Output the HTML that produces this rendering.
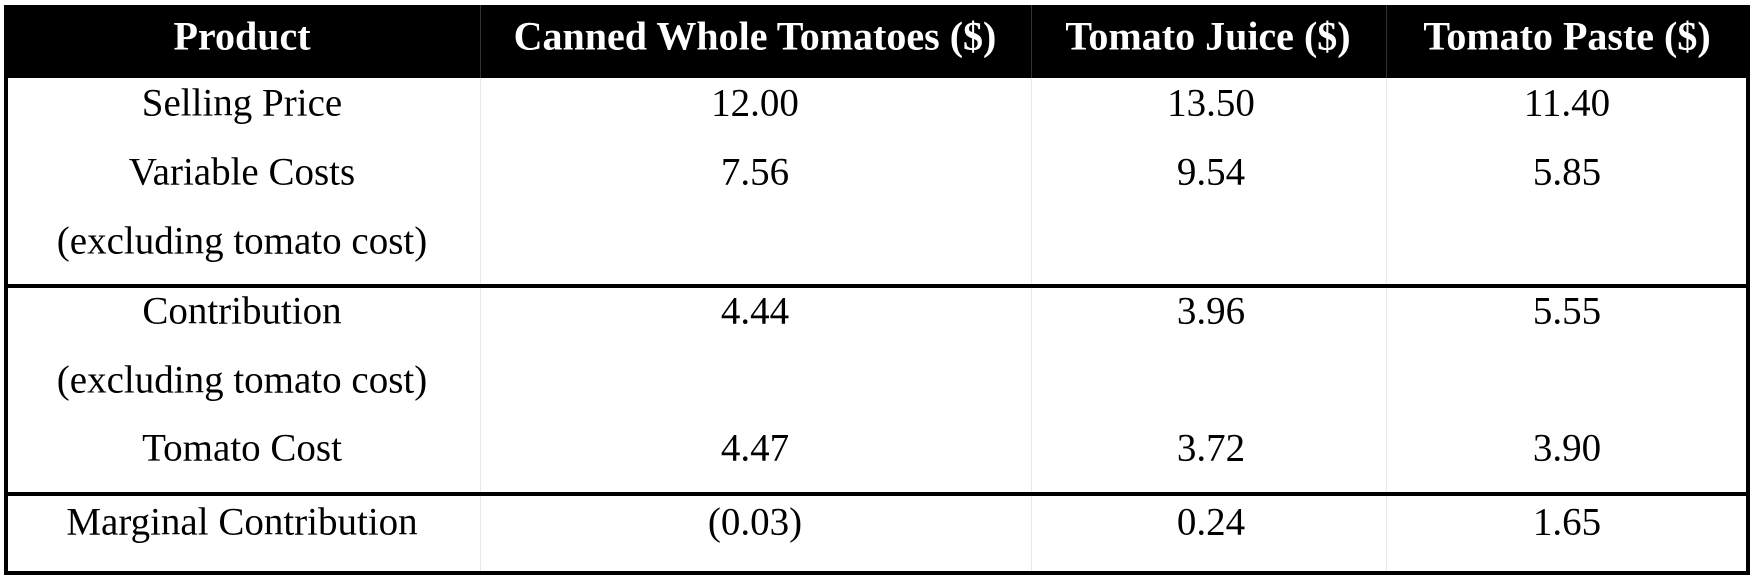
<!DOCTYPE html>
<html><head><meta charset="utf-8"><style>
body{margin:0;width:1758px;height:580px;background:#fff;position:relative;overflow:hidden;font-family:"Liberation Serif",serif;}
.t{position:absolute;transform:translate(-50%,-50%);white-space:nowrap;font-size:39px;color:#000;}
.h{color:#fff;font-weight:bold;font-size:40px;}
.ln{position:absolute;background:#000;}
.vl{position:absolute;background:#e8e8e8;width:1px;}
</style></head><body>
<div style="position:absolute;left:5px;top:5px;width:1744px;height:73px;background:#000"></div>
<div class="vl" style="left:480px;top:5px;height:73px;background:#333"></div>
<div class="vl" style="left:1031px;top:5px;height:73px;background:#333"></div>
<div class="vl" style="left:1386px;top:5px;height:73px;background:#333"></div>
<div class="vl" style="left:480px;top:78px;height:494px"></div>
<div class="vl" style="left:1031px;top:78px;height:494px"></div>
<div class="vl" style="left:1386px;top:78px;height:494px"></div>
<div class="ln" style="left:4px;top:5px;width:4px;height:570px"></div>
<div class="ln" style="left:1746px;top:5px;width:4px;height:570px"></div>
<div class="ln" style="left:4px;top:571px;width:1746px;height:4px"></div>
<div class="ln" style="left:4px;top:284px;width:1746px;height:4px"></div>
<div class="ln" style="left:4px;top:492px;width:1746px;height:4px"></div>

<div class="t h" style="left:242px;top:36px">Product</div>
<div class="t h" style="left:755px;top:36px">Canned Whole Tomatoes ($)</div>
<div class="t h" style="left:1208px;top:36px">Tomato Juice ($)</div>
<div class="t h" style="left:1567px;top:36px">Tomato Paste ($)</div>

<div class="t" style="left:242px;top:103px">Selling Price</div>
<div class="t" style="left:755px;top:103px">12.00</div>
<div class="t" style="left:1211px;top:103px">13.50</div>
<div class="t" style="left:1567px;top:103px">11.40</div>

<div class="t" style="left:242px;top:172px">Variable Costs</div>
<div class="t" style="left:755px;top:172px">7.56</div>
<div class="t" style="left:1211px;top:172px">9.54</div>
<div class="t" style="left:1567px;top:172px">5.85</div>
<div class="t" style="left:242px;top:241px">(excluding tomato cost)</div>

<div class="t" style="left:242px;top:311px">Contribution</div>
<div class="t" style="left:755px;top:311px">4.44</div>
<div class="t" style="left:1211px;top:311px">3.96</div>
<div class="t" style="left:1567px;top:311px">5.55</div>
<div class="t" style="left:242px;top:380px">(excluding tomato cost)</div>

<div class="t" style="left:242px;top:448px">Tomato Cost</div>
<div class="t" style="left:755px;top:448px">4.47</div>
<div class="t" style="left:1211px;top:448px">3.72</div>
<div class="t" style="left:1567px;top:448px">3.90</div>

<div class="t" style="left:242px;top:522px">Marginal Contribution</div>
<div class="t" style="left:755px;top:522px">(0.03)</div>
<div class="t" style="left:1211px;top:522px">0.24</div>
<div class="t" style="left:1567px;top:522px">1.65</div>
</body></html>
